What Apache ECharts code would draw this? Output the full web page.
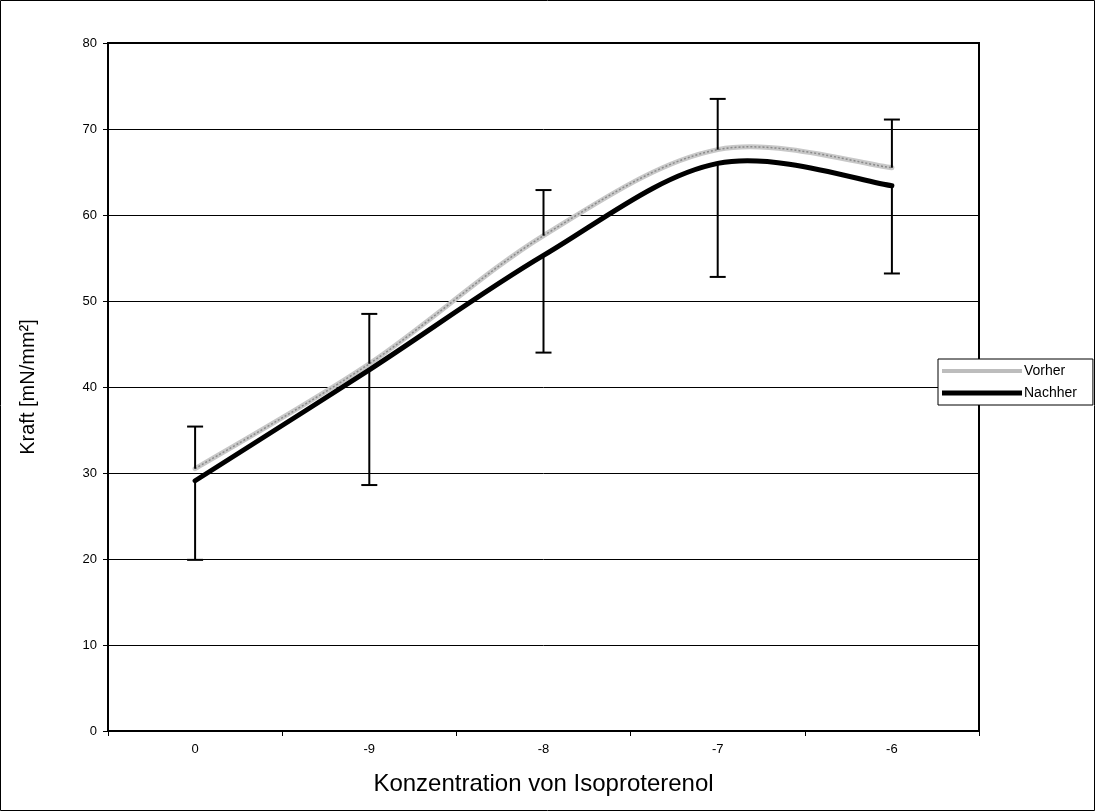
<!DOCTYPE html>
<html>
<head>
<meta charset="utf-8">
<script src="https://cdn.jsdelivr.net/npm/echarts@6/dist/echarts.min.js"></script>
<style>
html,body{margin:0;padding:0;background:#fff;}
#c{width:1096px;height:812px;}
</style>
</head>
<body>
<div id="c"></div>
<script>
const categories = ['0', '-9', '-8', '-7', '-6'];
const vorher = [30.5, 42.7, 57.6, 67.6, 65.5];
const nachher = [29.1, 42.0, 55.3, 66.0, 63.4];
const vorherUpper = [35.4, 48.5, 62.9, 73.5, 71.1];
const nachherLower = [19.9, 28.6, 44.0, 52.8, 53.2];
const yTicks = { min: 0, max: 80, interval: 10 };

const upperBars = vorher.map((v, i) => [i, v, vorherUpper[i]]);
const lowerBars = nachher.map((v, i) => [i, nachherLower[i], v]);

function errorBar(params, api) {
  const x = api.value(0);
  const p1 = api.coord([x, api.value(1)]);
  const p2 = api.coord([x, api.value(2)]);
  const hw = 8;
  const top = Math.min(p1[1], p2[1]);
  const bot = Math.max(p1[1], p2[1]);
  const capY = params.seriesName === 'upperErr' ? top : bot;
  const style = { stroke: '#000', lineWidth: 2, fill: null };
  return {
    type: 'group',
    children: [
      { type: 'line', shape: { x1: p1[0], y1: top, x2: p1[0], y2: bot }, style: style },
      { type: 'line', shape: { x1: p1[0] - hw, y1: capY, x2: p1[0] + hw, y2: capY }, style: style }
    ]
  };
}

// Excel-style smoothed line (Bezier through the data points), positions via the axes.
function smoothPath(values, api) {
  const pts = values.map((v, i) => api.coord([i, v]));
  const n = pts.length;
  let d = 'M' + pts[0][0] + ' ' + pts[0][1];
  for (let i = 0; i < n - 1; i++) {
    const p0 = pts[Math.max(i - 1, 0)], p1 = pts[i], p2 = pts[i + 1], p3 = pts[Math.min(i + 2, n - 1)];
    const c1 = [p1[0] + (p2[0] - p0[0]) / 6, p1[1] + (p2[1] - p0[1]) / 6];
    const c2 = [p2[0] - (p3[0] - p1[0]) / 6, p2[1] - (p3[1] - p1[1]) / 6];
    d += ' C' + c1[0] + ' ' + c1[1] + ' ' + c2[0] + ' ' + c2[1] + ' ' + p2[0] + ' ' + p2[1];
  }
  return d;
}

function lineRenderer(values, layers) {
  return function (params, api) {
    if (params.dataIndex !== 0) return null;
    const d = smoothPath(values, api);
    return {
      type: 'group',
      children: layers.map(st => ({
        type: 'path',
        shape: { pathData: d },
        style: Object.assign({ fill: null, lineCap: 'round', lineJoin: 'round' }, st)
      }))
    };
  };
}

const font = 'Liberation Sans, Arial, sans-serif';
const chart = echarts.init(document.getElementById('c'), null, { renderer: 'canvas' });
chart.setOption({
  animation: false,
  backgroundColor: '#fff',
  textStyle: { fontFamily: font },
  graphic: [{
    type: 'rect', silent: true, z: -10,
    shape: { x: 0.5, y: 0.5, width: 1094, height: 810 },
    style: { fill: null, stroke: '#000', lineWidth: 1 }
  }],
  grid: {
    left: 108, top: 43, right: 117, bottom: 81,
    show: true, borderColor: '#000', borderWidth: 2, backgroundColor: 'transparent'
  },
  legend: {
    orient: 'vertical',
    left: 938, top: 359,
    data: [
      { name: 'Vorher', icon: 'path://M0,0h80v4h-80z', itemStyle: { color: '#bdbdbd' } },
      { name: 'Nachher', icon: 'path://M0,0h80v5h-80z', itemStyle: { color: '#000' } }
    ],
    itemWidth: 80, itemHeight: 14, itemGap: 8,
    padding: [5, 16, 5, 4],
    borderColor: '#000', borderWidth: 1,
    backgroundColor: '#fff',
    textStyle: { fontSize: 14, color: '#000', fontFamily: font, padding: [0, 0, 0, -3] },
    z: 20
  },
  xAxis: {
    type: 'category',
    data: categories,
    boundaryGap: true,
    axisLine: { lineStyle: { color: '#000', width: 2 } },
    axisTick: { show: true, length: 5, lineStyle: { color: '#000', width: 1 } },
    axisLabel: { color: '#000', fontSize: 13, margin: 12, fontFamily: font },
    splitLine: { show: false },
    name: 'Konzentration von Isoproterenol',
    nameLocation: 'middle',
    nameGap: 41,
    nameTextStyle: { fontSize: 24, color: '#000', fontFamily: font }
  },
  yAxis: {
    type: 'value',
    min: yTicks.min, max: yTicks.max, interval: yTicks.interval,
    axisLine: { show: true, lineStyle: { color: '#000', width: 2 } },
    axisTick: { show: true, length: 5, lineStyle: { color: '#000', width: 1 } },
    axisLabel: { color: '#000', fontSize: 13, margin: 11, fontFamily: font },
    splitLine: { show: true, lineStyle: { color: '#000', width: 1 } },
    name: 'Kraft [mN/mm²]',
    nameLocation: 'middle',
    nameGap: 70,
    nameTextStyle: { fontSize: 20, color: '#000', fontFamily: font }
  },
  series: [
    {
      name: 'Vorher', type: 'custom', data: vorher.map((v, i) => [i, v]),
      encode: { x: 0, y: 1 },
      itemStyle: { color: '#bdbdbd' },
      renderItem: lineRenderer(vorher, [
        { stroke: '#c8c8c8', lineWidth: 5 },
        { stroke: '#8a8a8a', lineWidth: 1.5, lineDash: [2, 2], lineCap: 'butt' }
      ]),
      z: 3, silent: true
    },
    {
      name: 'Nachher', type: 'custom', data: nachher.map((v, i) => [i, v]),
      encode: { x: 0, y: 1 },
      itemStyle: { color: '#000' },
      renderItem: lineRenderer(nachher, [{ stroke: '#000', lineWidth: 5 }]),
      z: 5, silent: true
    },
    {
      name: 'upperErr', type: 'custom', data: upperBars,
      renderItem: errorBar, encode: { x: 0, y: [1, 2] }, z: 6, silent: true
    },
    {
      name: 'lowerErr', type: 'custom', data: lowerBars,
      renderItem: errorBar, encode: { x: 0, y: [1, 2] }, z: 6, silent: true
    }
  ]
});
</script>
</body>
</html>
